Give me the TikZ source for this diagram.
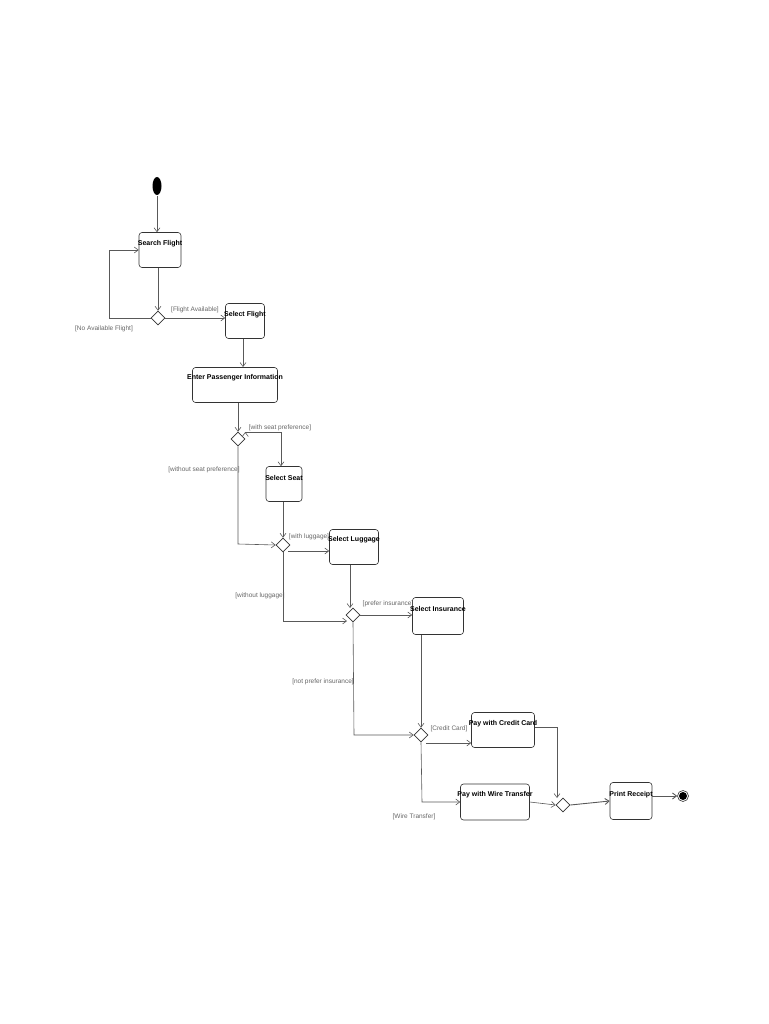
\documentclass[tikz,border=0pt]{standalone}
\usepackage{fontspec}
\setmainfont{Liberation Sans}
\usetikzlibrary{arrows.meta,shapes.geometric}
\begin{document}
\begin{tikzpicture}[x=1pt,y=-1pt,
  act/.style={draw=black!80,rounded corners=3pt,line width=0.6pt,minimum height=35pt,text depth=0pt,font=\fontsize{7}{8}\selectfont\bfseries},
  dec/.style={draw=black!80,diamond,minimum size=14pt,inner sep=0pt,line width=0.6pt},
  fl/.style={draw=black!65,line width=0.6pt,-{Straight Barb[length=4pt,width=6pt]}},
  lb/.style={text=black!60,font=\fontsize{6.5}{7}\selectfont,inner sep=1pt}]
\useasboundingbox (0,0) rectangle (768,1024);
\fill[black] (157,186) ellipse (4.5 and 9) coordinate (st);
\node[inner sep=0pt,minimum size=1pt] (st) at (157,195) {};
\newcommand{\actnode}[5]{\node[act,minimum width=#3pt,minimum height=#4pt] (#1) at #2 {};\node[font=\fontsize{7}{8}\selectfont\bfseries,inner sep=0pt] at ([yshift=-2pt]#1.north |- 0,0) {};}
\node[act,minimum width=42pt,minimum height=35pt] (sf) at (160,250) {};
\node[font=\fontsize{7}{8}\selectfont\bfseries] at (160,244) {Search Flight};
\node[dec] (d1) at (158,318) {};
\node[act,minimum width=39pt] (sel) at (245,321) {};
\node[font=\fontsize{7}{8}\selectfont\bfseries] at (245,315) {Select Flight};
\node[act,minimum width=85pt] (epi) at (235,385) {};
\node[font=\fontsize{7}{8}\selectfont\bfseries] at (235,378) {Enter Passenger Information};
\node[dec] (d2) at (238,439) {};
\node[act,minimum width=36pt] (ss) at (284,484) {};
\node[font=\fontsize{7}{8}\selectfont\bfseries] at (284,478) {Select Seat};
\node[dec] (d3) at (283,545) {};
\node[act,minimum width=49pt] (sl) at (354,547) {};
\node[font=\fontsize{7}{8}\selectfont\bfseries] at (354,540) {Select Luggage};
\node[dec] (d4) at (353,615) {};
\node[act,minimum width=51pt,minimum height=37pt] (si) at (438,616) {};
\node[font=\fontsize{7}{8}\selectfont\bfseries] at (438,609) {Select Insurance};
\node[dec] (d5) at (421,735) {};
\node[act,minimum width=63pt] (cc) at (503,730) {};
\node[font=\fontsize{7}{8}\selectfont\bfseries] at (503,724) {Pay with Credit Card};
\node[act,minimum width=69pt,minimum height=36pt] (wt) at (495,802) {};
\node[font=\fontsize{7}{8}\selectfont\bfseries] at (495,795) {Pay with Wire Transfer};
\node[dec] (d6) at (563,805) {};
\node[act,minimum width=42pt,minimum height=37pt] (pr) at (631,801) {};
\node[font=\fontsize{7}{8}\selectfont\bfseries] at (631,795) {Print Receipt};
\node[circle,draw=black!80,line width=0.6pt,minimum width=11pt,minimum height=11pt,inner sep=0pt] (en) at (683,796) {};
\fill[black] (en) circle (4);
% flows
\draw[fl] (st) -- (sf.north -| st);
\draw[fl] (d1.north |- sf.south) -- (d1.north);
\coordinate (l1) at (109,318); \coordinate (l2) at (109,250);
\draw[fl] (d1.west) -- (l1) -- (l2) -- (sf.west);
\node[lb] at (104,329) {[No Available Flight]};
\draw[fl] (d1.east) -- (sel.west |- d1.east);
\node[lb] at (195,310) {[Flight Available]};
\draw[fl] (243,339) -- (243,367);
\draw[fl] (d2.north |- epi.south) -- (d2.north);
\coordinate (a2) at (281,432);
\draw[fl] (d2.east) ++(0,-7) coordinate (tmp);
\draw[fl] (245,432) -| (ss.north -| 281,0);
\node[lb] at (280,428) {[with seat preference]};
\coordinate (b2) at (238,544);
\draw[fl] (d2.south) -- (b2) -- (d3.west);
\node[lb] at (204,470) {[without seat preference]};
\draw[fl] (ss.south -| d3.north) -- (d3.north);
\draw[fl] (288,551) -- (sl.west |- 0,551);
\node[lb] at (309,537) {[with luggage]};
\coordinate (b3) at (283,621);
\draw[fl] (d3.south) -- (b3) -- (347,621);
\node[lb] at (260,596) {[without luggage]};
\draw[fl] (350,565) -- (350,608);
\draw[fl] (d4.east) -- (si.west |- d4.east);
\node[lb] at (388,604) {[prefer insurance]};
\draw[fl] (si.south -| d5.north) -- (d5.north);
\coordinate (b4) at (354,735);
\draw[fl] (d4.south) -- (b4) -- (d5.west);
\node[lb] at (323,682) {[not prefer insurance]};
\draw[fl] (426,743) -- (cc.west |- 0,743);
\node[lb] at (449,729) {[Credit Card]};
\coordinate (b5) at (422,802);
\draw[fl] (d5.south) -- (b5) -- (wt.west |- b5);
\node[lb] at (414,817) {[Wire Transfer]};
\coordinate (c1) at (557,727);
\draw[fl] (cc.east |- c1) -- (c1) -- (557,798);
\draw[fl] (wt.east) -- (d6.west);
\draw[fl,line width=0.9pt] (d6.east) -- (pr.west);
\draw[fl,line width=0.9pt] (pr.east |- en) -- (en.west);
\end{tikzpicture}
\end{document}
